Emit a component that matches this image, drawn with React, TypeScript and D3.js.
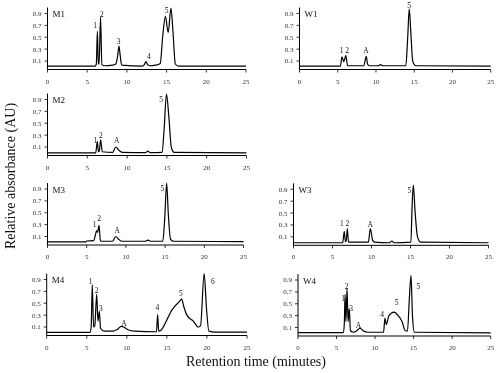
import React from "react";
import * as d3 from "d3";

type Pt = [number, number];
type Lbl = [string, number, number];

// ---- tick labels ----
const xTicks = [0, 5, 10, 15, 20, 25];
const yTicks = [0.1, 0.3, 0.5, 0.7, 0.9];

// ---- chromatogram traces [time (min), absorbance (AU)] ----
const traceM1: Pt[] = [[0,0.015],[6.0,0.015],[6.15,0.05],[6.28,0.6],[6.4,0.05],[6.5,0.05],[6.68,0.84],[6.85,0.04],[7.2,0.02],[8.2,0.03],[8.6,0.05],[8.85,0.2],[9.0,0.35],[9.15,0.2],[9.35,0.03],[11.9,0.015],[12.2,0.04],[12.4,0.09],[12.6,0.04],[12.9,0.02],[13.6,0.03],[14.2,0.06],[14.5,0.5],[14.85,0.85],[15.2,0.58],[15.55,0.99],[15.8,0.6],[16.1,0.05],[16.5,0.015],[25,0.015]];
const traceW1: Pt[] = [[0,0.015],[5.35,0.015],[5.55,0.17],[5.8,0.09],[6.05,0.19],[6.3,0.02],[8.4,0.02],[8.6,0.12],[8.72,0.18],[8.9,0.05],[9.1,0.02],[10.3,0.02],[10.6,0.04],[10.9,0.02],[13.9,0.02],[14.15,0.5],[14.35,0.98],[14.55,0.6],[14.8,0.1],[15.2,0.02],[25,0.015]];
const traceM2: Pt[] = [[0,0.0],[6.05,0.0],[6.26,0.19],[6.4,0.02],[6.5,0.03],[6.68,0.22],[6.88,0.02],[8.2,0.01],[8.57,0.1],[9.0,0.04],[9.4,0.01],[12.3,0.005],[12.6,0.03],[12.9,0.005],[14.4,0.01],[14.65,0.4],[14.95,0.99],[15.25,0.6],[15.55,0.1],[15.9,0.01],[25,0.0]];
const traceM3: Pt[] = [[0,0.01],[4.9,0.01],[5.0,0.025],[5.9,0.03],[6.1,0.12],[6.27,0.2],[6.4,0.17],[6.57,0.29],[6.75,0.03],[7.0,0.02],[8.3,0.02],[8.7,0.1],[9.1,0.05],[9.5,0.02],[12.4,0.02],[12.8,0.04],[13.2,0.02],[14.7,0.02],[14.95,0.4],[15.2,1.0],[15.4,0.5],[15.7,0.05],[16.1,0.02],[25,0.015]];
const traceW3: Pt[] = [[0,0.0],[6.3,0.0],[6.51,0.19],[6.65,0.02],[6.75,0.02],[6.9,0.24],[7.05,0.01],[9.6,0.01],[9.85,0.24],[10.15,0.04],[10.4,0.01],[12.3,0.0],[12.6,0.03],[12.9,0.0],[15.05,0.01],[15.2,0.6],[15.36,0.97],[15.6,0.5],[15.9,0.1],[16.3,0.01],[25,0.0]];
const traceM4: Pt[] = [[0,0.01],[5.4,0.01],[5.55,0.1],[5.69,0.81],[5.85,0.1],[6.0,0.12],[6.24,0.65],[6.4,0.2],[6.57,0.36],[6.72,0.08],[7.2,0.03],[8.3,0.03],[8.8,0.06],[9.3,0.11],[9.6,0.1],[10.2,0.05],[11.0,0.03],[13.7,0.02],[13.85,0.31],[13.98,0.03],[14.3,0.05],[15.0,0.22],[15.6,0.38],[16.0,0.45],[16.5,0.52],[16.85,0.57],[17.1,0.45],[17.5,0.3],[18.3,0.2],[18.9,0.1],[19.2,0.12],[19.65,1.0],[19.95,0.4],[20.25,0.03],[21,0.015],[25,0.015]];
const traceW4: Pt[] = [[0,0.015],[5.9,0.015],[6.02,0.2],[6.1,0.66],[6.22,0.2],[6.36,0.76],[6.5,0.2],[6.65,0.42],[6.8,0.05],[7.2,0.02],[7.6,0.04],[8.04,0.09],[8.5,0.04],[9.0,0.02],[11.1,0.02],[11.28,0.26],[11.45,0.15],[11.8,0.3],[12.45,0.36],[13.0,0.3],[13.5,0.2],[13.9,0.05],[14.2,0.04],[14.45,0.6],[14.66,0.98],[14.85,0.3],[15.1,0.02],[25,0.01]];

// ---- peak labels [text, time, absorbance of label baseline] ----
const labelsM1: Lbl[] = [["1",6.0,0.66],["2",6.85,0.84],["3",8.97,0.39],["4",12.78,0.14],["5",15.0,0.91]];
const labelsW1: Lbl[] = [["1 2",5.86,0.23],["A",8.7,0.23],["5",14.35,1.0]];
const labelsM2: Lbl[] = [["1",6.0,0.16],["2",6.72,0.25],["A",8.69,0.17],["5",14.26,0.85]];
const labelsM3: Lbl[] = [["1",6.0,0.26],["2",6.6,0.36],["A",8.9,0.16],["5",14.64,0.87]];
const labelsW3: Lbl[] = [["1 2",6.56,0.28],["A",9.85,0.26],["5",14.85,0.84]];
const labelsM4: Lbl[] = [["1",5.49,0.83],["2",6.24,0.68],["3",6.75,0.37],["A",9.65,0.12],["4",13.8,0.39],["5",16.75,0.62],["6",20.75,0.83]];
const labelsW4: Lbl[] = [["1",5.85,0.55],["2",6.32,0.75],["3",6.9,0.38],["A",7.83,0.1],["4",10.9,0.27],["5",12.8,0.48],["5",15.61,0.75]];

// ---- layout (panel name, trace, labels, x pixel range, y of 0.9 tick) ----
const panels = [
  { name: "M1", trace: traceM1, labels: labelsM1, xr: [47.5, 246], r: 13.5 },
  { name: "W1", trace: traceW1, labels: labelsW1, xr: [299.5, 490.7], r: 13.5 },
  { name: "M2", trace: traceM2, labels: labelsM2, xr: [47.5, 246.5], r: 99.5 },
  { name: "M3", trace: traceM3, labels: labelsM3, xr: [47.5, 243.5], r: 189 },
  { name: "W3", trace: traceW3, labels: labelsW3, xr: [293.5, 488.5], r: 189.3 },
  { name: "M4", trace: traceM4, labels: labelsM4, xr: [46.7, 247], r: 279.5 },
  { name: "W4", trace: traceW4, labels: labelsW4, xr: [298, 490.7], r: 280 },
];

const FONT = "'Liberation Serif', 'DejaVu Serif', serif";
const PX_PER_UNIT = 59.4;

function Panel({ p }: { p: (typeof panels)[number] }) {
  const x = d3.scaleLinear().domain([0, 25]).range(p.xr);
  const yBottom = p.r + (0.9 + 0.043) * PX_PER_UNIT;
  const yTop = p.r - 0.1 * PX_PER_UNIT;
  const y = d3.scaleLinear().domain([-0.043, 1.0]).range([yBottom, yTop]);
  const line = d3
    .line<Pt>()
    .x((d) => x(d[0]))
    .y((d) => y(d[1]))
    .curve(d3.curveMonotoneX);
  const x0 = x(0);
  return (
    <g>
      {/* axes */}
      <line x1={x0} x2={x0} y1={yTop} y2={yBottom} stroke="#000" strokeWidth={1} />
      <line x1={x0} x2={x(25)} y1={yBottom} y2={yBottom} stroke="#000" strokeWidth={1} />
      {yTicks.map((t) => (
        <g key={"y" + t}>
          <line x1={x0 - 3} x2={x0} y1={y(t)} y2={y(t)} stroke="#000" strokeWidth={0.8} />
          <text x={x0 - 6} y={y(t)} dy="0.35em" textAnchor="end" fontSize={7} fill="#333" fontFamily={FONT}>
            {t.toFixed(1)}
          </text>
        </g>
      ))}
      {xTicks.map((t) => (
        <g key={"x" + t}>
          <line x1={x(t)} x2={x(t)} y1={yBottom} y2={yBottom + 3} stroke="#000" strokeWidth={0.8} />
          <text x={x(t)} y={yBottom + 14} textAnchor="middle" fontSize={7} fill="#333" fontFamily={FONT}>
            {t}
          </text>
        </g>
      ))}
      {/* trace */}
      <path d={line(p.trace) || ""} fill="none" stroke="#000" strokeWidth={1.2} strokeLinejoin="round" />
      {/* peak labels */}
      {p.labels.map((l, i) => (
        <text key={i} x={x(l[1])} y={y(l[2])} textAnchor="middle" fontSize={7.5} fill="#111" fontFamily={FONT}>
          {l[0]}
        </text>
      ))}
      <text x={x0 + 5} y={p.r + 3.5} fontSize={9} fill="#111" fontFamily={FONT}>
        {p.name}
      </text>
    </g>
  );
}

export default function App() {
  return (
    <div style={{ position: "fixed", left: 0, top: 0, width: 500, height: 373, willChange: "transform" }}>
      <svg width={500} height={373} viewBox="0 0 500 373" style={{ display: "block" }}>
        <rect width={500} height={373} fill="#fff" />
        {panels.map((p) => (
          <Panel key={p.name} p={p} />
        ))}
        <text
          transform="translate(15,176) rotate(-90)"
          textAnchor="middle"
          fontSize={14}
          fill="#111"
          fontFamily={FONT}
        >
          Relative absorbance (AU)
        </text>
        <text x={256} y={366} textAnchor="middle" fontSize={14} fill="#111" fontFamily={FONT}>
          Retention time (minutes)
        </text>
      </svg>
    </div>
  );
}
